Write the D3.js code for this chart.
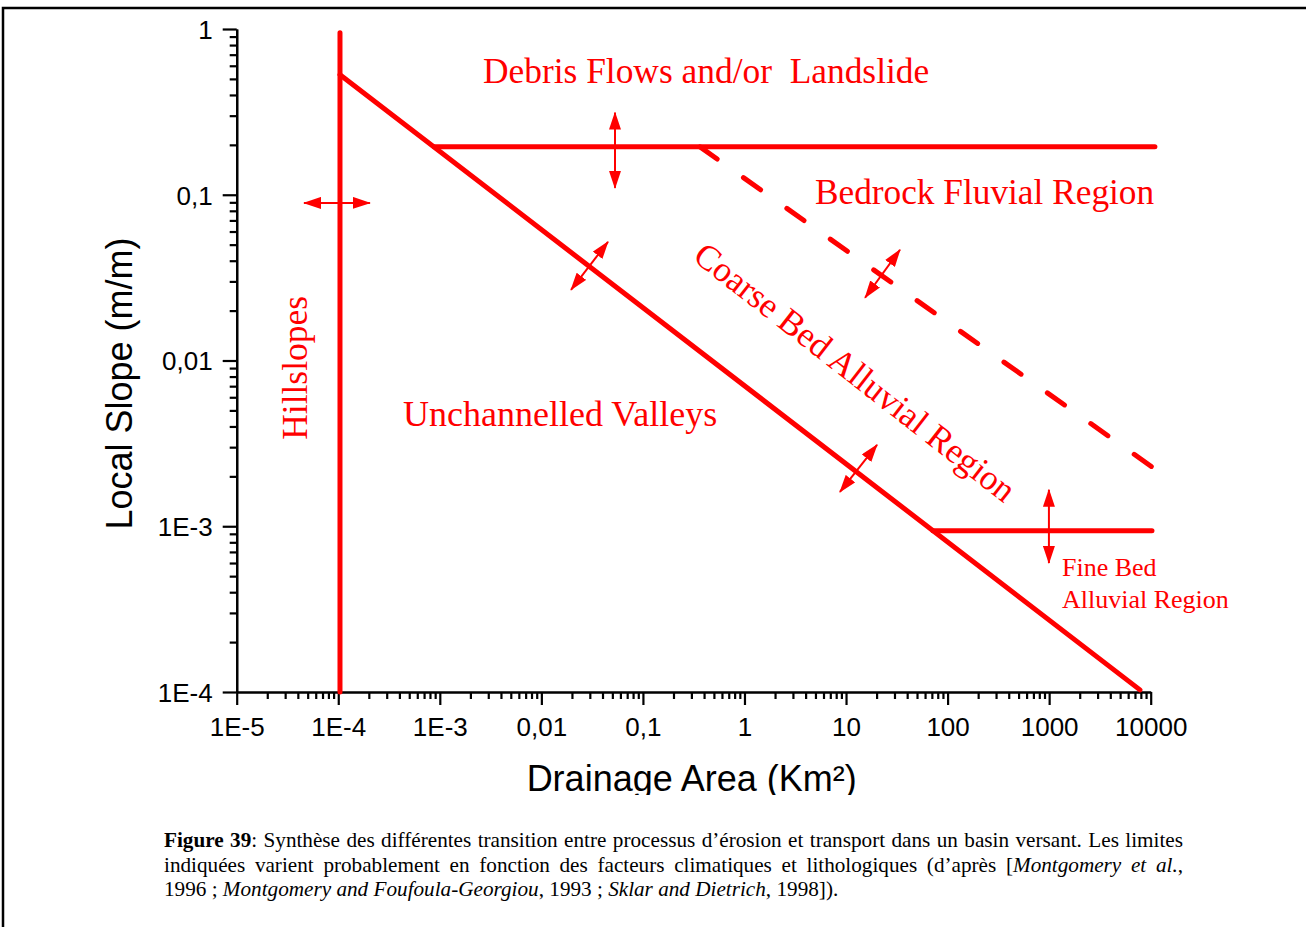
<!DOCTYPE html>
<html><head><meta charset="utf-8">
<script src="https://cdn.jsdelivr.net/npm/d3@7/dist/d3.min.js"></script>
<style>
body{margin:0;background:#fff}
svg{display:block}
.tick text{font-family:"Liberation Sans",Arial,sans-serif;font-size:26px;fill:#000}
.serif{font-family:"Liberation Serif","Times New Roman",serif}
</style>
</head><body>
<svg id="chart" width="1306" height="927"></svg>
<script>
// ---------- data ----------
const xTicks = [1e-5, 1e-4, 1e-3, 0.01, 0.1, 1, 10, 100, 1000, 10000];
const xTickLabels = ["1E-5", "1E-4", "1E-3", "0,01", "0,1", "1", "10", "100", "1000", "10000"];
const yTicks = [1e-4, 1e-3, 0.01, 0.1, 1];
const yTickLabels = ["1E-4", "1E-3", "0,01", "0,1", "1"];

// process boundaries [drainage area (km²), local slope (m/m)]
const hillslopeLimit = [[1.04e-4, 1e-4], [1.04e-4, 0.95]];
const channelLimit   = [[1.04e-4, 0.53], [7840, 1.03e-4]];
const debrisLimit    = [[8.8e-4, 0.1945], [11000, 0.1945]];
const bedrockLimit   = [[0.365, 0.1945], [10290, 0.00228]];
const fineBedLimit   = [[71.8, 9.38e-4], [10290, 9.38e-4]];

// double-headed transition arrows
const transitionArrows = [
  [[4.6e-5, 0.0893], [2.05e-4, 0.0893]],
  [[0.0531, 0.313], [0.0531, 0.110]],
  [[0.0196, 0.0267], [0.0453, 0.052]],
  [[15.4, 0.0239], [34.0, 0.0466]],
  [[8.71, 0.00161], [20.2, 0.0031]],
  [[995, 0.00166], [995, 6.0e-4]]
];

// region names and their anchors [area, slope]
const regionNames = ["Debris Flows and/or  Landslide", "Bedrock Fluvial Region", "Unchannelled Valleys",
                     "Hillslopes", "Coarse Bed Alluvial Region", "Fine Bed", "Alluvial Region"];
const regionAnchors = [[0.00266, 0.474], [4.94, 0.088], [4.34e-4, 0.00403],
                       [4.92e-5, 0.00332], [0.30, 0.0408], [1337, 5.01e-4], [1337, 3.21e-4]];

const xTitle = "Drainage Area (Km²)";
const yTitle = "Local Slope (m/m)";

const captionLines = [
  [[["Figure","b"]],[["39","b"],[":",""]],[["Synthèse",""]],[["des",""]],[["différentes",""]],[["transition",""]],
   [["entre",""]],[["processus",""]],[["d’érosion",""]],[["et",""]],[["transport",""]],[["dans",""]],[["un",""]],
   [["basin",""]],[["versant.",""]],[["Les",""]],[["limites",""]]],
  [[["indiquées",""]],[["varient",""]],[["probablement",""]],[["en",""]],[["fonction",""]],[["des",""]],
   [["facteurs",""]],[["climatiques",""]],[["et",""]],[["lithologiques",""]],[["(d’après",""]],
   [["[",""],["Montgomery","i"]],[["et","i"]],[["al.","i"],[",",""]]],
  [[["1996",""]],[[";",""]],[["Montgomery","i"]],[["and","i"]],[["Foufoula-Georgiou","i"],[",",""]],[["1993",""]],
   [[";",""]],[["Sklar","i"]],[["and","i"]],[["Dietrich","i"],[",",""]],[["1998]).",""]]]
];

// ---------- drawing ----------
const svg = d3.select("#chart");
const RED = "#ff0000";

const x = d3.scaleLog().domain([1e-5, 1e4]).range([236.7, 1150.7]);
const y = d3.scaleLog().domain([1e-4, 1]).range([692, 29]);

// frame
svg.append("path").attr("d", "M3,927V8H1306").attr("fill", "none").attr("stroke", "#000").attr("stroke-width", 2.5);

function minorTicks(domain) {
  const out = [];
  for (let e = Math.round(Math.log10(domain[0])); e < Math.round(Math.log10(domain[1])); e++)
    for (let k = 2; k <= 9; k++) out.push(k * Math.pow(10, e));
  return out;
}

// x axis
const gx = svg.append("g").attr("transform", "translate(0,692)");
gx.append("g").call(d3.axisBottom(x).tickValues(minorTicks(x.domain())).tickSize(7).tickSizeOuter(0).tickFormat(""));
gx.append("g").call(d3.axisBottom(x).tickValues(xTicks).tickSize(13).tickSizeOuter(0)
  .tickFormat((d, i) => xTickLabels[i]));
gx.selectAll("text").attr("y", 44).attr("dy", 0);

// y axis
const gy = svg.append("g").attr("transform", "translate(236.7,0)");
gy.append("g").call(d3.axisLeft(y).tickValues(minorTicks(y.domain())).tickSize(7).tickSizeOuter(0).tickFormat(""));
gy.append("g").call(d3.axisLeft(y).tickValues(yTicks).tickSize(14).tickSizeOuter(0)
  .tickFormat((d, i) => yTickLabels[i]));
gy.selectAll("text").attr("x", -24).attr("dy", "0.36em");
svg.selectAll(".domain, .tick line").attr("stroke", "#000").attr("stroke-width", 2.2);

// axis titles
const clip = svg.append("defs").append("clipPath").attr("id", "xtclip");
clip.append("rect").attr("x", 0).attr("y", 0).attr("width", 1306).attr("height", 795);
svg.append("text").attr("clip-path", "url(#xtclip)")
  .attr("x", (x.range()[0] + x.range()[1]) / 2 - 2).attr("y", 791)
  .attr("text-anchor", "middle").style("font-family", '"Liberation Sans",Arial,sans-serif')
  .style("font-size", "36px").text(xTitle);
svg.append("text").attr("transform", "translate(132," + ((y.range()[0] + y.range()[1]) / 2 + 23) + ") rotate(-90)")
  .attr("text-anchor", "middle").style("font-family", '"Liberation Sans",Arial,sans-serif')
  .style("font-size", "36px").text(yTitle);

// boundary lines
const line = d3.line().x(d => x(d[0])).y(d => y(d[1]));
[hillslopeLimit, channelLimit, debrisLimit, fineBedLimit].forEach(data => {
  svg.append("path").attr("d", line(data)).attr("fill", "none").attr("stroke", RED)
    .attr("stroke-width", 5).attr("stroke-linecap", "round");
});
svg.append("path").attr("d", line(bedrockLimit)).attr("fill", "none").attr("stroke", RED)
  .attr("stroke-width", 5).attr("stroke-linecap", "round").attr("stroke-dasharray", "21,32.2");

// arrows
const defs = svg.select("defs");
defs.append("marker").attr("id", "ah").attr("viewBox", "0 0 18 12").attr("refX", 17).attr("refY", 6)
  .attr("markerWidth", 18).attr("markerHeight", 12).attr("markerUnits", "userSpaceOnUse")
  .attr("orient", "auto-start-reverse")
  .append("path").attr("d", "M0,0L18,6L0,12Z").attr("fill", RED);
transitionArrows.forEach(a => {
  svg.append("path").attr("d", line(a)).attr("stroke", RED).attr("stroke-width", 2).attr("fill", "none")
    .attr("marker-start", "url(#ah)").attr("marker-end", "url(#ah)");
});

// region labels
const labelStyle = [
  {size: 35.4, rot: 0}, {size: 35.3, rot: 0}, {size: 36, rot: 0}, {size: 35.5, rot: -90},
  {size: 35.3, rot: 38}, {size: 26, rot: 0}, {size: 26, rot: 0}
];
regionNames.forEach((name, i) => {
  const [ax, ay] = regionAnchors[i];
  svg.append("text").attr("class", "serif")
    .attr("transform", `translate(${x(ax)},${y(ay)}) rotate(${labelStyle[i].rot})`)
    .style("font-size", labelStyle[i].size + "px").style("white-space", "pre")
    .attr("fill", RED).text(name);
});

// caption
const capX0 = 164, capX1 = 1183, capBase = [847, 872, 896], capSize = 21.2;
function styleSeg(t, st) {
  t.style("font-weight", st === "b" ? "bold" : "normal").style("font-style", st === "i" ? "italic" : "normal");
}
function makeWord(g, segs, xx, yy) {
  const t = g.append("text").attr("class", "serif").attr("x", xx).attr("y", yy)
    .style("font-size", capSize + "px").attr("fill", "#000");
  segs.forEach(([s, st]) => styleSeg(t.append("tspan").text(s), st));
  return t;
}
const capG = svg.append("g");
captionLines.forEach((words, li) => {
  const widths = words.map(w => { const t = makeWord(capG, w, 0, -100); const wd = t.node().getComputedTextLength(); t.remove(); return wd; });
  const total = d3.sum(widths);
  const justify = li < captionLines.length - 1;
  const gap = justify ? (capX1 - capX0 - total) / (words.length - 1) : capSize * 0.25;
  let cx = capX0;
  words.forEach((w, i) => { makeWord(capG, w, cx, capBase[li]); cx += widths[i] + gap; });
});
</script>
</body></html>
